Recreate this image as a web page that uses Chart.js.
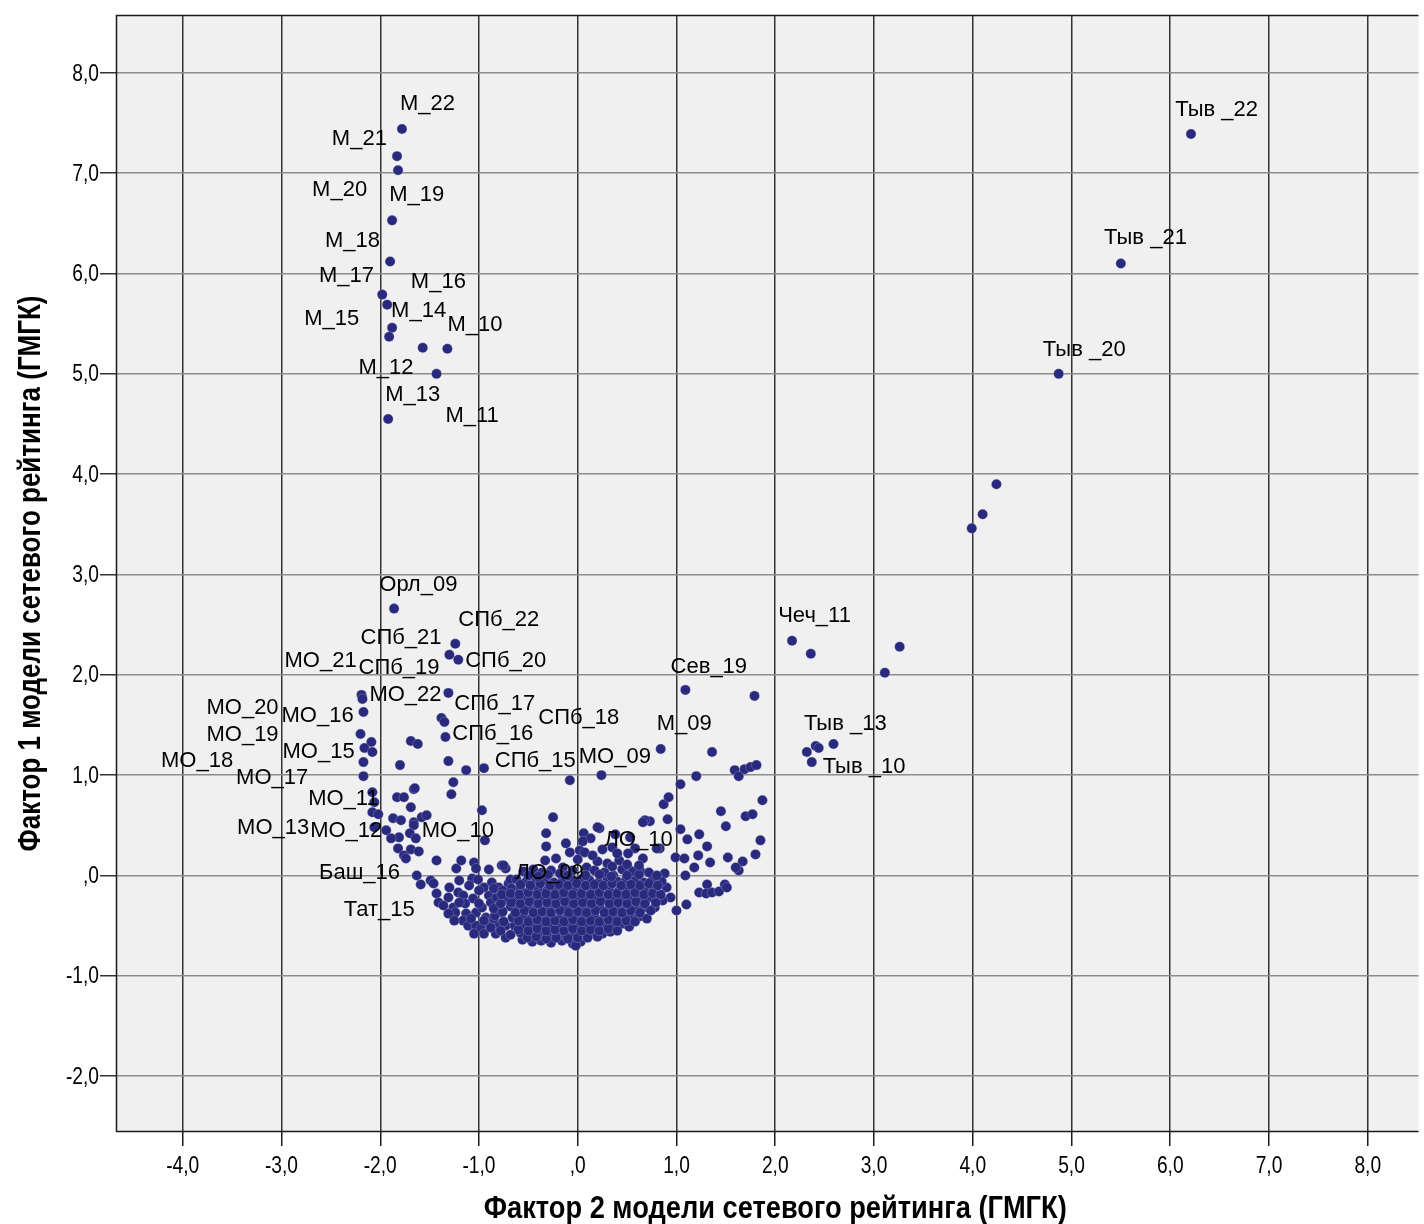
<!DOCTYPE html>
<html lang="ru">
<head>
<meta charset="utf-8">
<title>Факторы модели сетевого рейтинга</title>
<script src="https://cdn.jsdelivr.net/npm/chart.js@4.4.1/dist/chart.umd.min.js"></script>
<style>
  html, body { margin: 0; padding: 0; background: #fff; }
  #wrap { width: 1424px; height: 1224px; position: relative; }
</style>
</head>
<body>
<div id="wrap"><canvas id="scatter"></canvas></div>
<script>
// Фактор 2 (ось X) и Фактор 1 (ось Y), пары [x, y]

// Москва, 2010-2022
const moscowCity = [
  [-1.78, 7.44], [-1.83, 7.17], [-1.82, 7.03], [-1.88, 6.53], [-1.90, 6.12],
  [-1.98, 5.79], [-1.93, 5.69], [-1.88, 5.46], [-1.91, 5.37], [-1.57, 5.26],
  [-1.32, 5.25], [-1.43, 5.00], [-1.92, 4.55]
];

// Тыва, верхняя ветка
const tuvaTop = [
  [6.21, 7.39], [5.50, 6.10], [4.87, 5.00], [4.24, 3.90], [4.10, 3.60], [3.99, 3.46]
];

// Орёл, СПб, Московская область и соседи
const leftGroup = [
  [-1.86, 2.66],
  [-1.24, 2.31], [-1.30, 2.20], [-1.21, 2.15], [-1.31, 1.82], [-1.38, 1.57],
  [-1.35, 1.53], [-1.34, 1.38], [-1.69, 1.34], [-1.62, 1.31], [-1.80, 1.10],
  [-1.31, 1.14], [-1.13, 1.05], [-0.95, 1.07], [-1.26, 0.93], [-1.28, 0.81],
  [-1.66, 0.86],
  [-2.19, 1.80], [-2.18, 1.76], [-2.17, 1.63], [-2.20, 1.41], [-2.09, 1.33],
  [-2.16, 1.27], [-2.08, 1.23], [-2.17, 1.13], [-2.17, 0.99],
  [-2.08, 0.83], [-2.06, 0.73], [-1.83, 0.78], [-1.76, 0.78], [-1.65, 0.87],
  [-1.69, 0.68], [-2.08, 0.63], [-2.02, 0.61], [-1.87, 0.57], [-1.79, 0.55],
  [-1.66, 0.53], [-1.58, 0.58], [-1.53, 0.60], [-0.97, 0.65], [-2.06, 0.48],
  [-1.94, 0.45], [-1.66, 0.50], [-1.70, 0.42], [-1.81, 0.38], [-1.89, 0.37],
  [-1.64, 0.37], [-0.94, 0.35], [-1.82, 0.27], [-1.69, 0.26], [-1.61, 0.24],
  [-1.76, 0.20], [-1.74, 0.17], [-1.43, 0.15], [-1.23, 0.07], [-1.18, 0.15],
  [-1.05, 0.13], [-1.03, 0.07], [-0.90, 0.06], [-0.77, 0.10], [-0.73, 0.07],
  [-1.63, 0.00], [-1.59, -0.09], [-1.49, -0.05], [-1.46, -0.08], [-1.07, -0.03],
  [-1.01, -0.04], [-0.87, -0.07], [-1.43, -0.18], [-1.31, -0.22], [-1.21, -0.17],
  [-1.16, -0.20], [-0.90, -0.20], [-1.06, -0.23], [-1.41, -0.27], [-1.36, -0.30],
  [-1.26, -0.32], [-1.24, -0.37], [-1.14, -0.28], [-1.13, -0.38], [-1.31, -0.38],
  [-1.16, -0.45], [-1.03, -0.37], [-0.97, -0.32], [-0.93, -0.42], [-0.88, -0.27],
  [-0.77, -0.37], [-0.75, -0.25], [-1.11, -0.50], [-1.03, -0.50], [-0.98, -0.53],
  [-0.90, -0.48], [-0.80, -0.48], [-0.73, -0.50], [-0.83, -0.58], [-0.73, -0.62],
  [-0.80, -0.12], [-0.70, -0.08], [-0.95, -0.12], [-1.10, -0.10], [-1.20, -0.05],
  [-1.00, -0.28], [-1.20, -0.27], [-0.95, -0.45], [-0.85, -0.43], [-1.08, -0.43],
  [-1.00, -0.15], [-1.30, -0.12], [-1.25, -0.45], [-1.05, -0.58], [-0.95, -0.58]
];

// Чечня, Севастополь, Тыва (нижняя ветка) и правый край облака
const rightGroup = [
  [2.17, 2.34], [2.36, 2.21], [3.26, 2.28], [3.11, 2.02],
  [1.09, 1.85], [1.79, 1.79],
  [2.32, 1.23], [2.41, 1.29], [2.44, 1.27], [2.59, 1.31], [2.37, 1.13],
  [0.84, 1.26], [1.36, 1.23],
  [1.59, 1.05], [1.63, 0.99], [1.69, 1.06], [1.75, 1.08], [1.81, 1.10],
  [1.20, 0.99], [1.04, 0.91], [1.87, 0.75], [1.45, 0.64], [1.50, 0.49],
  [1.70, 0.59], [1.77, 0.61], [1.85, 0.35], [1.80, 0.21], [1.52, 0.18],
  [1.67, 0.14], [1.63, 0.05], [1.60, 0.08], [0.87, 0.71], [0.92, 0.78],
  [0.91, 0.56], [0.73, 0.54], [1.04, 0.46], [1.23, 0.41], [1.11, 0.36],
  [1.31, 0.29], [0.83, 0.27], [1.22, 0.20], [1.34, 0.13], [0.99, 0.18],
  [1.08, 0.17], [1.18, 0.08], [1.09, 0.00], [0.88, 0.02], [1.31, -0.09],
  [1.23, -0.17], [1.30, -0.18], [1.36, -0.17], [1.43, -0.16], [1.49, -0.09],
  [1.51, -0.12], [1.10, -0.29], [1.00, -0.35], [0.81, -0.18], [0.94, -0.22],
  [0.78, -0.32], [0.68, 0.55], [0.66, 0.53],
  [0.53, 0.38], [0.58, 0.27], [0.66, 0.17], [0.51, 0.22], [0.80, 0.27],
  [0.38, 0.41], [0.36, 0.00], [0.53, 0.05], [0.63, 0.05]
];

// центр облака вокруг нуля
const centerGroup = [
  [-0.08, 0.95], [0.24, 1.00], [-0.25, 0.58], [0.22, 0.47],
  [-0.32, 0.42], [-0.32, 0.29], [-0.12, 0.32], [0.06, 0.42], [0.13, 0.37],
  [0.20, 0.48], [0.05, 0.34], [0.02, 0.25], [-0.08, 0.23], [-0.22, 0.17],
  [-0.33, 0.15], [0.07, 0.23], [0.00, 0.16], [0.09, 0.08], [-0.15, 0.08],
  [-0.05, 0.05], [-0.75, 0.10], [-0.68, -0.04],
  [-0.56, -0.64], [-0.46, -0.66], [-0.37, -0.65], [-0.27, -0.67], [-0.16, -0.65],
  [-0.05, -0.68], [0.03, -0.66], [-0.02, -0.70],
  [-0.68, -0.59], [-0.58, -0.57], [-0.49, -0.60], [-0.40, -0.58], [-0.31, -0.59],
  [-0.21, -0.57], [-0.12, -0.60], [-0.03, -0.58], [0.06, -0.59], [0.15, -0.57],
  [0.25, -0.58], [0.33, -0.56],
  [-0.88, -0.52], [-0.64, -0.50], [-0.55, -0.51], [-0.46, -0.49], [-0.37, -0.51],
  [-0.28, -0.50], [-0.19, -0.48], [-0.10, -0.51], [-0.01, -0.50], [0.08, -0.49],
  [0.17, -0.51], [0.26, -0.49], [0.36, -0.50], [0.45, -0.48], [0.52, -0.51],
  [-0.84, -0.40], [-0.66, -0.42], [-0.55, -0.40], [-0.46, -0.42], [-0.37, -0.40],
  [-0.28, -0.41], [-0.19, -0.43], [-0.10, -0.40], [-0.01, -0.42], [0.08, -0.40],
  [0.17, -0.41], [0.26, -0.43], [0.35, -0.40], [0.44, -0.42], [0.53, -0.40],
  [0.62, -0.41], [0.70, -0.43],
  [-0.85, -0.33], [-0.68, -0.31], [-0.59, -0.33], [-0.50, -0.31], [-0.41, -0.32],
  [-0.32, -0.34], [-0.23, -0.31], [-0.14, -0.33], [-0.05, -0.31], [0.04, -0.33],
  [0.13, -0.31], [0.22, -0.32], [0.31, -0.34], [0.40, -0.31], [0.49, -0.33],
  [0.58, -0.31], [0.67, -0.32], [0.74, -0.35],
  [-0.82, -0.22], [-0.72, -0.24], [-0.63, -0.22], [-0.54, -0.23], [-0.45, -0.25],
  [-0.36, -0.22], [-0.27, -0.24], [-0.18, -0.22], [-0.09, -0.23], [0.00, -0.25],
  [0.09, -0.22], [0.18, -0.24], [0.27, -0.22], [0.36, -0.23], [0.45, -0.25],
  [0.54, -0.22], [0.63, -0.24], [0.72, -0.22], [0.86, -0.25],
  [-0.85, -0.13], [-0.76, -0.15], [-0.67, -0.13], [-0.58, -0.14], [-0.49, -0.16],
  [-0.40, -0.13], [-0.31, -0.15], [-0.22, -0.13], [-0.13, -0.14], [-0.04, -0.16],
  [0.05, -0.13], [0.14, -0.15], [0.23, -0.13], [0.32, -0.14], [0.41, -0.16],
  [0.50, -0.13], [0.59, -0.15], [0.68, -0.13], [0.77, -0.14], [0.90, -0.12],
  [-0.62, -0.04], [-0.52, -0.06], [-0.42, -0.04], [-0.33, -0.05], [-0.24, -0.07],
  [-0.15, -0.04], [-0.06, -0.06], [0.03, -0.04], [0.12, -0.05], [0.21, -0.07],
  [0.30, -0.04], [0.40, -0.06], [0.49, -0.04], [0.58, -0.05], [0.67, -0.07],
  [0.76, -0.04], [0.85, -0.06],
  [-0.55, 0.04], [-0.45, 0.06], [-0.36, 0.03], [-0.27, 0.05], [-0.18, 0.02],
  [0.17, 0.05], [0.27, 0.03], [0.45, 0.06], [0.56, 0.04], [0.72, 0.03],
  [0.20, 0.14], [0.30, 0.12], [0.42, 0.15], [0.50, 0.11],
  [0.25, 0.26], [0.35, 0.28]
];

// плотное ядро между рядами центра
const denseCore = [
  [-0.51, -0.62], [-0.42, -0.61], [-0.32, -0.63], [-0.22, -0.62], [-0.10, -0.63],
  [0.00, -0.62], [0.10, -0.62], [0.20, -0.61],
  [-0.78, -0.55], [-0.60, -0.54], [-0.50, -0.55], [-0.41, -0.53], [-0.32, -0.55],
  [-0.23, -0.54], [-0.14, -0.55], [-0.05, -0.53], [0.04, -0.55], [0.13, -0.54],
  [0.22, -0.55], [0.31, -0.53], [0.40, -0.55],
  [-0.75, -0.46], [-0.60, -0.45], [-0.50, -0.46], [-0.41, -0.44], [-0.32, -0.46],
  [-0.23, -0.45], [-0.14, -0.46], [-0.05, -0.44], [0.04, -0.46], [0.13, -0.45],
  [0.22, -0.46], [0.31, -0.44], [0.40, -0.46], [0.49, -0.45], [0.58, -0.46],
  [-0.76, -0.36], [-0.63, -0.37], [-0.54, -0.35], [-0.45, -0.37], [-0.36, -0.36],
  [-0.27, -0.37], [-0.18, -0.35], [-0.09, -0.37], [0.00, -0.36], [0.09, -0.37],
  [0.18, -0.35], [0.27, -0.37], [0.36, -0.36], [0.45, -0.37], [0.54, -0.35],
  [0.63, -0.37],
  [-0.78, -0.28], [-0.67, -0.27], [-0.58, -0.28], [-0.49, -0.26], [-0.40, -0.28],
  [-0.31, -0.27], [-0.22, -0.28], [-0.13, -0.26], [-0.04, -0.28], [0.05, -0.27],
  [0.14, -0.28], [0.23, -0.26], [0.32, -0.28], [0.41, -0.27], [0.50, -0.28],
  [0.59, -0.26], [0.68, -0.28], [0.79, -0.27],
  [-0.77, -0.19], [-0.68, -0.18], [-0.59, -0.19], [-0.50, -0.17], [-0.41, -0.19],
  [-0.32, -0.18], [-0.23, -0.19], [-0.14, -0.17], [-0.05, -0.19], [0.04, -0.18],
  [0.13, -0.19], [0.22, -0.17], [0.31, -0.19], [0.40, -0.18], [0.49, -0.19],
  [0.58, -0.17], [0.67, -0.19], [0.76, -0.18], [0.84, -0.19],
  [-0.58, -0.09], [-0.48, -0.10], [-0.38, -0.08], [-0.28, -0.10], [-0.19, -0.09],
  [-0.10, -0.10], [-0.01, -0.08], [0.08, -0.10], [0.17, -0.09], [0.26, -0.10],
  [0.35, -0.08], [0.44, -0.10], [0.54, -0.09], [0.63, -0.10], [0.72, -0.08],
  [0.81, -0.10],
  [-0.50, 0.00], [-0.40, -0.01], [-0.30, 0.01], [-0.10, 0.00], [0.08, 0.00],
  [0.22, 0.01], [0.34, -0.01], [0.50, 0.00], [0.62, 0.01], [0.80, 0.00],
  [0.35, 0.09], [0.62, 0.10], [0.15, 0.20], [0.40, 0.22]
];

// подписи точек: текст и опорная точка (левый край, середина строки) в единицах осей
const labelNames = [
  'М_22', 'М_21', 'М_20', 'М_19', 'М_18', 'М_17', 'М_16', 'М_15', 'М_14', 'М_10',
  'М_12', 'М_13', 'М_11', 'Тыв _22', 'Тыв _21', 'Тыв _20', 'Орл_09', 'СПб_22', 'СПб_21',
  'СПб_20', 'МО_21', 'СПб_19', 'МО_22', 'СПб_17', 'МО_20', 'МО_16', 'СПб_18', 'МО_19',
  'СПб_16', 'МО_15', 'СПб_15', 'МО_09', 'МО_18', 'МО_17', 'М_09', 'Сев_19', 'Чеч_11',
  'Тыв _13', 'Тыв _10', 'МО_11', 'МО_13', 'МО_12', 'МО_10', 'ЛО_10', 'Баш_16', 'ЛО_09',
  'Тат_15'
];
const labelX = [
  -1.80, -2.49, -2.69, -1.91, -2.56, -2.62, -1.69, -2.77, -1.89, -1.32,
  -2.22, -1.95, -1.34, 6.05, 5.33, 4.71, -2.01, -1.21, -2.20,
  -1.14, -2.97, -2.22, -2.11, -1.25, -3.76, -3.00, -0.40, -3.76,
  -1.27, -2.99, -0.84, 0.01, -4.22, -3.46, 0.80, 0.94, 2.03,
  2.29, 2.48, -2.73, -3.45, -2.71, -1.58, 0.27, -2.62, -0.63,
  -2.37
];
const labelY = [
  7.69, 7.34, 6.83, 6.78, 6.32, 5.98, 5.92, 5.55, 5.63, 5.49,
  5.06, 4.79, 4.58, 7.63, 6.35, 5.24, 2.90, 2.55, 2.37,
  2.14, 2.14, 2.07, 1.80, 1.71, 1.67, 1.59, 1.57, 1.40,
  1.41, 1.23, 1.14, 1.18, 1.14, 0.97, 1.51, 2.08, 2.59,
  1.51, 1.08, 0.76, 0.47, 0.44, 0.44, 0.35, 0.03, 0.03,
  -0.34
];

// пределы осей и шаг делений
const xMin = -4.676, xMax = 8.514;
const yMin = -2.557, yMax = 8.577;
const tickStep = 1;

const xTitle = 'Фактор 2 модели сетевого рейтинга (ГМГК)';
const yTitle = 'Фактор 1 модели сетевого рейтинга (ГМГК)';

const allPoints = [...moscowCity, ...tuvaTop, ...leftGroup, ...rightGroup, ...centerGroup, ...denseCore]
  .map(([x, y]) => ({ x, y }));

// формат SPSS: запятая и без ведущего нуля
const fmtTick = v => {
  let s = Number(v).toFixed(1).replace('.', ',');
  if (s.startsWith('0,')) s = s.slice(1);
  if (s === '-0,0') s = ',0';
  return s;
};

const sansFamily = "'Liberation Sans', Arial, sans-serif";

// текст, сжатый по горизонтали (узкий шрифт, как в SPSS)
function narrowText(ctx, text, x, y, sx, align) {
  ctx.save();
  ctx.translate(x, y);
  ctx.scale(sx, 1);
  ctx.textAlign = align;
  ctx.fillText(text, 0, 0);
  ctx.restore();
}

// серый фон области построения и рамка (без правой стороны)
const plotFrame = {
  id: 'plotFrame',
  beforeDraw(chart) {
    const { ctx, chartArea: a } = chart;
    ctx.save();
    ctx.fillStyle = '#f0f0f0';
    ctx.fillRect(a.left, a.top, a.right - a.left, a.bottom - a.top);
    ctx.restore();
  },
  afterDraw(chart) {
    const { ctx, chartArea: a } = chart;
    ctx.save();
    ctx.strokeStyle = '#1a1a1a';
    ctx.lineWidth = 1.5;
    ctx.beginPath();
    ctx.moveTo(a.right, a.top + 0.5);
    ctx.lineTo(a.left + 0.5, a.top + 0.5);
    ctx.lineTo(a.left + 0.5, a.bottom - 0.5);
    ctx.lineTo(a.right, a.bottom - 0.5);
    ctx.stroke();
    ctx.restore();
  }
};

// подписи делений и названия осей узким начертанием
const axisText = {
  id: 'axisText',
  afterDraw(chart) {
    const { ctx, chartArea: a, scales: { x, y } } = chart;
    ctx.save();
    ctx.fillStyle = '#000';
    ctx.textBaseline = 'middle';
    ctx.font = '24px ' + sansFamily;
    y.ticks.forEach(t => {
      narrowText(ctx, fmtTick(t.value), a.left - 17, y.getPixelForValue(t.value) + 1, 0.8, 'right');
    });
    x.ticks.forEach(t => {
      narrowText(ctx, fmtTick(t.value), x.getPixelForValue(t.value), a.bottom + 34, 0.8, 'center');
    });

    ctx.font = 'bold 31px ' + sansFamily;
    const xw = ctx.measureText(xTitle).width;
    narrowText(ctx, xTitle, (a.left + a.right) / 2 + 8, a.bottom + 77, 583 / xw, 'center');

    const yw = ctx.measureText(yTitle).width;
    ctx.save();
    ctx.translate(31, (a.top + a.bottom) / 2);
    ctx.rotate(-Math.PI / 2);
    narrowText(ctx, yTitle, 0, 0, 556 / yw, 'center');
    ctx.restore();
    ctx.restore();
  }
};

// подписи наблюдений поверх точек
const pointLabels = {
  id: 'pointLabels',
  afterDatasetsDraw(chart) {
    const { ctx, scales: { x, y } } = chart;
    ctx.save();
    ctx.font = '22px ' + sansFamily;
    ctx.fillStyle = '#000';
    ctx.textAlign = 'left';
    ctx.textBaseline = 'middle';
    labelNames.forEach((name, i) => {
      ctx.fillText(name, x.getPixelForValue(labelX[i]), y.getPixelForValue(labelY[i]));
    });
    ctx.restore();
  }
};

new Chart(document.getElementById('scatter'), {
  type: 'scatter',
  data: {
    datasets: [{
      data: allPoints,
      pointRadius: 5,
      pointHoverRadius: 5,
      backgroundColor: '#29297d',
      borderColor: 'rgba(190, 190, 225, 0.6)',
      borderWidth: 0.5
    }]
  },
  options: {
    responsive: true,
    maintainAspectRatio: false,
    animation: false,
    events: [],
    layout: { padding: { top: 13, right: 0, bottom: 0, left: 0 } },
    plugins: { legend: { display: false }, tooltip: { enabled: false } },
    scales: {
      x: {
        type: 'linear',
        min: xMin,
        max: xMax,
        afterFit: s => { s.height = 92; },
        ticks: {
          stepSize: tickStep,
          includeBounds: false,
          autoSkip: false,
          maxRotation: 0,
          color: 'rgba(0,0,0,0)',
          font: { family: sansFamily, size: 20 },
          callback: fmtTick
        },
        grid: { color: '#333333', lineWidth: 1.5, tickLength: 14, tickColor: '#1a1a1a' },
        border: { display: false },
        title: { display: false }
      },
      y: {
        type: 'linear',
        min: yMin,
        max: yMax,
        afterFit: s => { s.width = 116; },
        ticks: {
          stepSize: tickStep,
          includeBounds: false,
          autoSkip: false,
          color: 'rgba(0,0,0,0)',
          font: { family: sansFamily, size: 20 },
          callback: fmtTick
        },
        grid: { color: '#8c8c8c', lineWidth: 1.5, tickLength: 16, tickColor: '#333333' },
        border: { display: false },
        title: { display: false }
      }
    }
  },
  plugins: [plotFrame, pointLabels, axisText]
});
</script>
</body>
</html>
